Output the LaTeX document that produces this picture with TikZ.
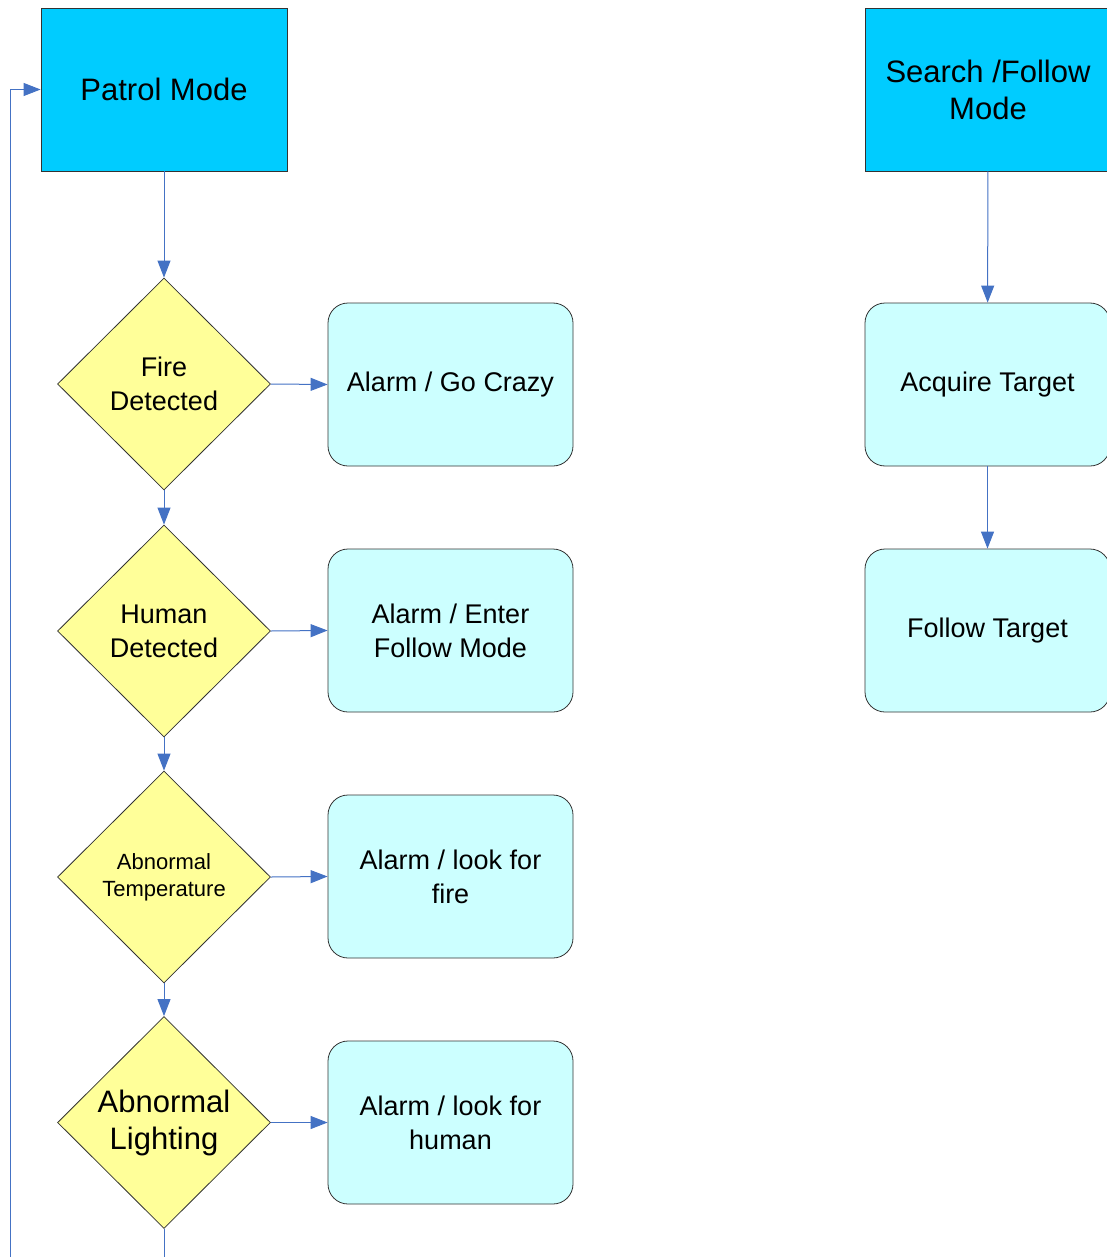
\documentclass[tikz,border=0pt]{standalone}
\usepackage{fontspec}
\setmainfont{Liberation Sans}
\usepackage{tikz}
\usetikzlibrary{shapes.geometric,arrows.meta,positioning}
\definecolor{modeblue}{RGB}{0,204,255}
\definecolor{actcyan}{RGB}{204,255,255}
\definecolor{testyellow}{RGB}{255,255,153}
\definecolor{linkblue}{RGB}{68,114,196}

\begin{document}
\begin{tikzpicture}[x=0.5pt,y=-0.5pt]

\tikzset{modebox/.style={draw=black!80,fill=modeblue,minimum width=123pt,minimum height=81.5pt,inner sep=0pt,font=\fontsize{15.5}{18.5}\selectfont,align=center},
actbox/.style={draw=black!80,fill=actcyan,rounded corners=10pt,minimum width=122.5pt,minimum height=81.5pt,inner sep=0pt,font=\fontsize{13.5}{17}\selectfont,align=center},
testnode/.style={draw=black!80,fill=testyellow,shape=diamond,aspect=1,minimum width=106.5pt,minimum height=106pt,inner sep=0pt,font=\fontsize{13.5}{17}\selectfont,align=center},
link/.style={draw=linkblue,line width=0.5pt,-{Triangle[length=8.5pt,width=6.5pt]}}}

% Frame
\useasboundingbox (0,0) rectangle (1107,1257);
\clip (0,0) rectangle (1107,1257);

% Patrol side
\node[modebox] (patrol) at (164,89.5) {Patrol Mode};
\node[testnode] (fire) at (164,384) {Fire\\Detected};
\node[testnode] (human) at (164,631) {Human\\Detected};
\node[testnode,font=\fontsize{11}{13.5}\selectfont] (temp) at (164,877) {Abnormal\\Temperature};
\node[testnode,font=\fontsize{15.5}{18.5}\selectfont] (light) at (164,1122.5) {Abnormal\\Lighting};

\node[actbox] (crazy) at (450.5,384.5) {Alarm / Go Crazy};
\node[actbox] (enter) at (450.5,630.5) {Alarm / Enter\\Follow Mode};
\node[actbox] (lookfire) at (450.5,876.5) {Alarm / look for\\fire};
\node[actbox] (lookhuman) at (450.5,1122.5) {Alarm / look for\\human};

% Search side
\node[modebox] (search) at (988,89.5) {Search /Follow\\Mode};
\node[actbox] (acquire) at (987.5,384.5) {Acquire Target};
\node[actbox] (follow) at (987.5,630.5) {Follow Target};

% Arrows
\draw[link] (patrol) -- (fire);
\foreach \a/\b in {fire/human,human/temp,temp/light} \draw[link] (\a.south) -- (\b.north);
\foreach \a/\b in {fire/crazy,human/enter,temp/lookfire,light/lookhuman} \draw[link] (\a.east) -- (\b.west);
\draw[link] (search) -- (acquire);
\draw[link] (acquire) -- (follow);

% Loop back to patrol
\coordinate (loopdown) at (164,1300);
\coordinate (loopleft) at (10,1300);
\draw[link] (light.south) -- (loopdown) -- (loopleft) |- (patrol.west);

\end{tikzpicture}
\end{document}
